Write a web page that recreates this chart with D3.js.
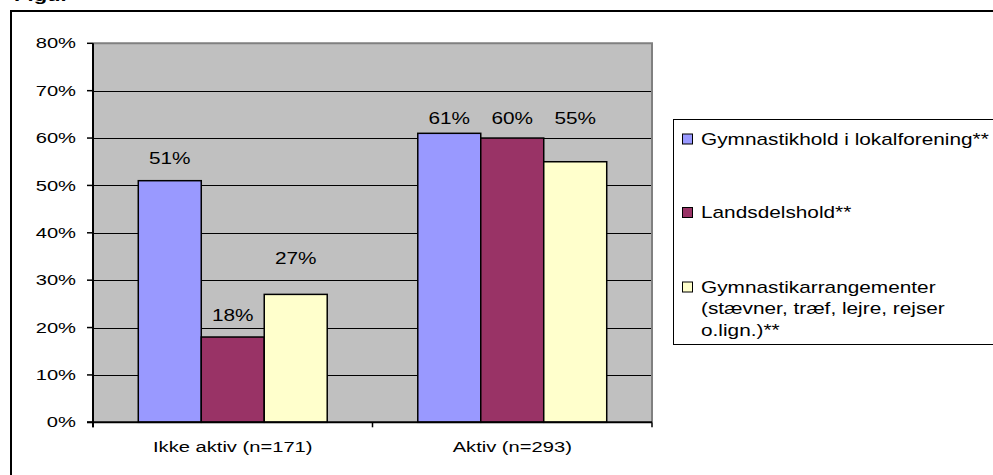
<!DOCTYPE html>
<html>
<head>
<meta charset="utf-8">
<script src="https://cdn.jsdelivr.net/npm/d3@7"></script>
<style>
  html, body { margin: 0; padding: 0; background: #fff; }
  svg { display: block; }
  text { font-family: "Liberation Sans", Arial, sans-serif; fill: #000; }
</style>
</head>
<body>
<svg id="chart" width="993" height="475"></svg>
<script>
const categories = ["Ikke aktiv (n=171)", "Aktiv (n=293)"];
const seriesNames = [
  "Gymnastikhold i lokalforening**",
  "Landsdelshold**",
  "Gymnastikarrangementer (stævner, træf, lejre, rejser o.lign.)**"
];
const legendLines = [
  ["Gymnastikhold i lokalforening**"],
  ["Landsdelshold**"],
  ["Gymnastikarrangementer", "(stævner, træf, lejre, rejser", "o.lign.)**"]
];
const seriesColors = ["#9999FF", "#993366", "#FFFFCC"];
const lokalforening = [0.51, 0.61];
const landsdelshold = [0.18, 0.60];
const arrangementer = [0.27, 0.55];
const yTicks = [0, 0.1, 0.2, 0.3, 0.4, 0.5, 0.6, 0.7, 0.8];

// style: distance (px) of each data label's centre above its bar top, [series][category]
const labelLift = [[22.5, 15.2], [22, 20], [36.3, 43.6]];

const seriesValues = [lokalforening, landsdelshold, arrangementer];
const SX = 1.3; // horizontal text stretch as in the reference

const svg = d3.select("#chart");
const plot = { left: 93, right: 652, top: 43.3, bottom: 422.3 };

function stretchText(sel, x, y) {
  return sel.attr("transform", `translate(${x},${y}) scale(${SX},1)`);
}

// partially visible caption at top
stretchText(svg.append("text"), 14, 1)
  .attr("font-size", 17).attr("font-weight", "bold").text("Figur");

// outer frame
svg.append("rect").attr("x", 11).attr("y", 11).attr("width", 1100).attr("height", 600)
  .attr("fill", "none").attr("stroke", "#000").attr("stroke-width", 2);

const x0 = d3.scaleBand().domain(categories).range([plot.left, plot.right])
  .paddingInner(0.324).paddingOuter(0.162);
const x1 = d3.scaleBand().domain(d3.range(seriesNames.length)).range([0, x0.bandwidth()]);
const y = d3.scaleLinear().domain([0, 0.8]).range([plot.bottom, plot.top]);

// plot background
svg.append("rect").attr("x", plot.left).attr("y", plot.top)
  .attr("width", plot.right - plot.left).attr("height", plot.bottom - plot.top)
  .attr("fill", "#C0C0C0");

// gridlines
svg.append("g").selectAll("line").data(yTicks.filter(t => t > 0 && t < 0.8)).join("line")
  .attr("x1", plot.left).attr("x2", plot.right)
  .attr("y1", d => Math.round(y(d)) + 0.5).attr("y2", d => Math.round(y(d)) + 0.5)
  .attr("stroke", "#000").attr("stroke-width", 1);

// plot border top/right (gray)
svg.append("path")
  .attr("d", `M${plot.left},${plot.top}H${plot.right}V${plot.bottom}`)
  .attr("fill", "none").attr("stroke", "#808080").attr("stroke-width", 2);

// bars
const groups = svg.append("g").selectAll("g").data(categories).join("g")
  .attr("transform", d => `translate(${x0(d)},0)`);
groups.selectAll("rect").data((c, ci) => seriesValues.map((s, si) => ({ si, v: s[ci] })))
  .join("rect")
  .attr("x", d => x1(d.si)).attr("width", x1.bandwidth())
  .attr("y", d => y(d.v)).attr("height", d => y(0) - y(d.v))
  .attr("fill", d => seriesColors[d.si]).attr("stroke", "#000").attr("stroke-width", 1.5);

// data labels
groups.each(function(c, ci) {
  const g = d3.select(this);
  seriesValues.forEach((s, si) => {
    stretchText(g.append("text"), x1(si) + x1.bandwidth() / 2, y(s[ci]) - labelLift[si][ci])
      .attr("text-anchor", "middle").attr("dominant-baseline", "central").attr("font-size", 16)
      .text(d3.format(".0%")(s[ci]));
  });
});

// y axis
const yAxis = svg.append("g");
yAxis.append("line").attr("x1", plot.left).attr("x2", plot.left)
  .attr("y1", plot.top).attr("y2", plot.bottom + 5).attr("stroke", "#000").attr("stroke-width", 2);
yAxis.selectAll("line.tick").data(yTicks).join("line").attr("class", "tick")
  .attr("x1", plot.left - 6).attr("x2", plot.left)
  .attr("y1", d => y(d)).attr("y2", d => y(d)).attr("stroke", "#000").attr("stroke-width", 1.5);
yAxis.selectAll("text").data(yTicks).join("text")
  .each(function(d) { stretchText(d3.select(this), 76, y(d)); })
  .attr("text-anchor", "end").attr("dominant-baseline", "central").attr("font-size", 15.5)
  .text(d => d3.format(".0%")(d));

// x axis
const xAxis = svg.append("g");
xAxis.append("line").attr("x1", plot.left - 6).attr("x2", plot.right)
  .attr("y1", plot.bottom).attr("y2", plot.bottom).attr("stroke", "#000").attr("stroke-width", 2);
const bounds = [plot.left].concat(categories.map(c => x0(c) + x0.bandwidth() + x0.step() * x0.paddingInner() / 2));
xAxis.selectAll("line.tick").data(bounds).join("line").attr("class", "tick")
  .attr("x1", d => d).attr("x2", d => d)
  .attr("y1", plot.bottom).attr("y2", plot.bottom + 5).attr("stroke", "#000").attr("stroke-width", 1.5);
xAxis.selectAll("text").data(categories).join("text")
  .each(function(d) { stretchText(d3.select(this), x0(d) + x0.bandwidth() / 2, 452); })
  .attr("text-anchor", "middle").attr("font-size", 15.5)
  .text(d => d);

// legend
const legend = svg.append("g");
legend.append("rect").attr("x", 673.5).attr("y", 119.5).attr("width", 400).attr("height", 225)
  .attr("fill", "#fff").attr("stroke", "#000").attr("stroke-width", 1);
const itemY = [139, 212.5, 287];
legendLines.forEach((lines, i) => {
  legend.append("rect").attr("x", 682.5).attr("y", itemY[i] - 5).attr("width", 10).attr("height", 10)
    .attr("fill", seriesColors[i]).attr("stroke", "#000").attr("stroke-width", 1);
  lines.forEach((ln, li) => {
    stretchText(legend.append("text"), 701, itemY[i] + li * 21.8)
      .attr("dominant-baseline", "central").attr("font-size", 16).text(ln);
  });
});
</script>
</body>
</html>
